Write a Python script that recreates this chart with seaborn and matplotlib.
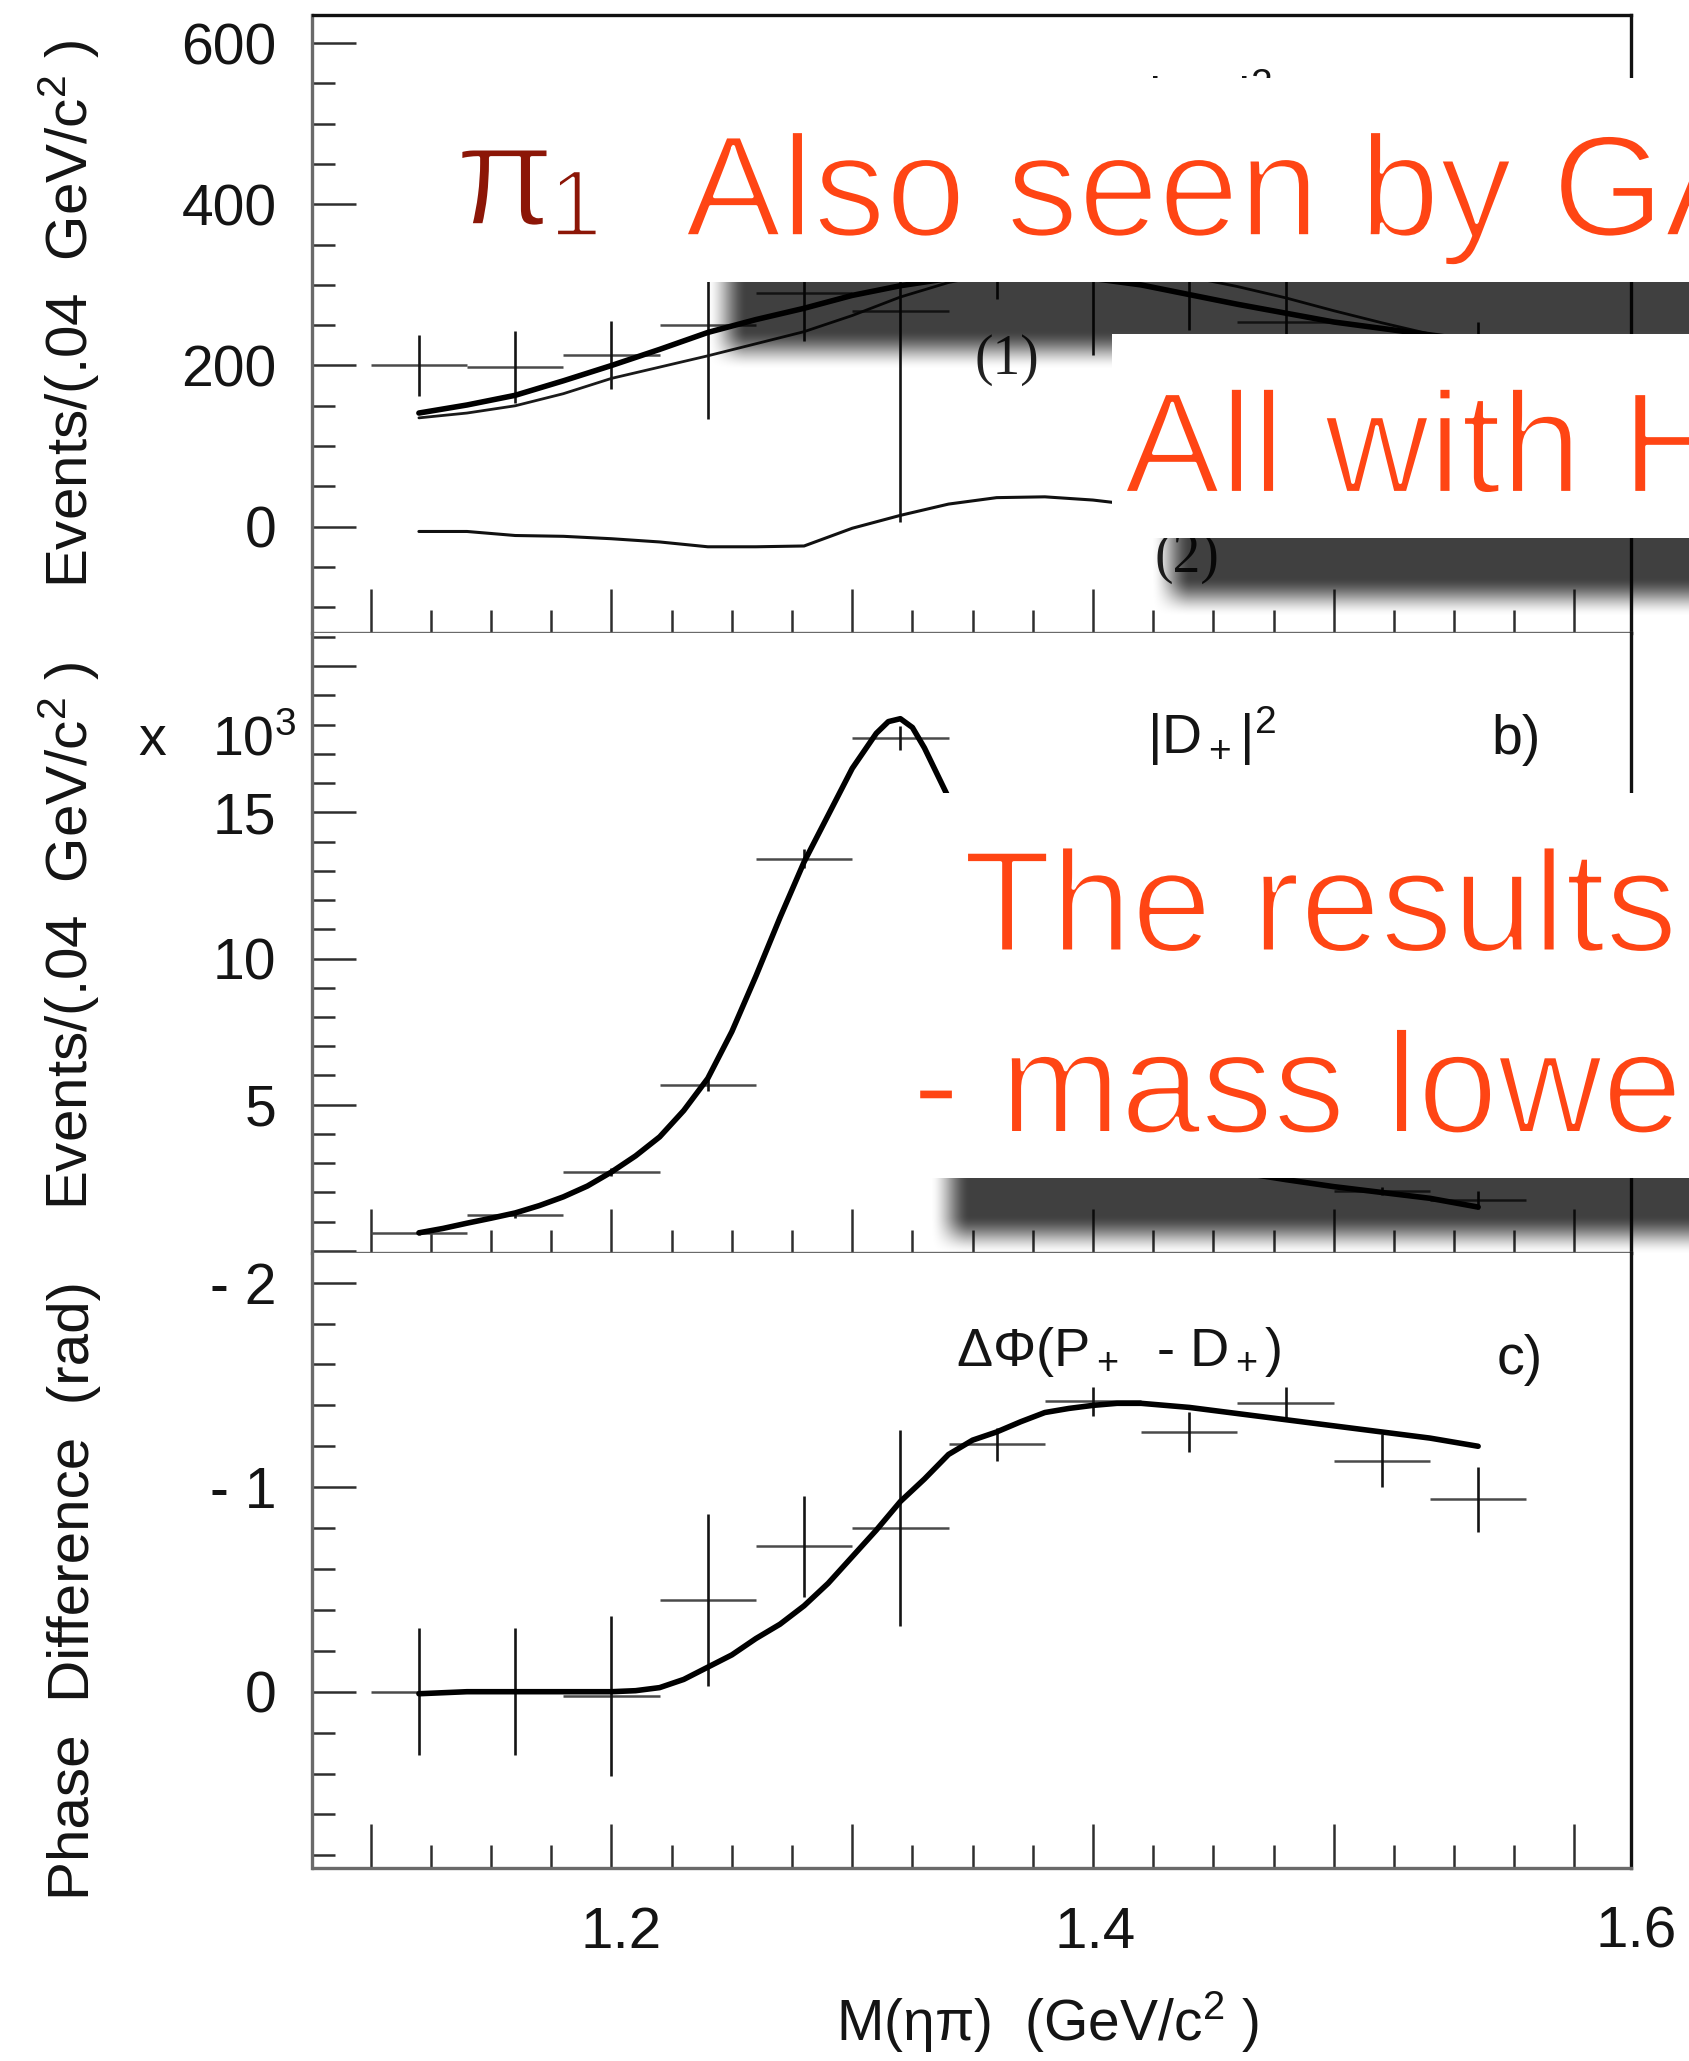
import numpy as np
import matplotlib
matplotlib.use("Agg")
import matplotlib.pyplot as plt
import matplotlib.patheffects as pe
from matplotlib.patches import Rectangle
from matplotlib.ticker import MultipleLocator, FuncFormatter
from matplotlib.transforms import ScaledTranslation
import seaborn as sns

# ------------------------------------------------------------------ data
mass_bins = [1.12, 1.16, 1.20, 1.24, 1.28, 1.32, 1.36, 1.40, 1.44, 1.48, 1.52, 1.56]
bin_half_width = 0.02

# a) |P+|^2  (events / 0.04 GeV/c^2)
p_wave_events = [200, 198, 213, 250, 290, 268, 325, 330, 318, 254, 200, 205]
p_wave_errors = [38, 45, 42, 116, 59, 262, 43, 117, 74, 60, 35, 49]

fit_mass = [1.12, 1.14, 1.16, 1.18, 1.20, 1.22, 1.24, 1.26, 1.28, 1.30, 1.32, 1.34,
            1.36, 1.38, 1.40, 1.42, 1.44, 1.46, 1.48, 1.50, 1.52, 1.54, 1.56]
p_fit_total = [141, 151, 163, 181, 200, 220, 241, 257, 271, 287, 299, 308,
               313, 313, 308, 300, 288, 276, 265, 254, 246, 238, 230]
p_fit_comp1 = [135, 141, 150, 165, 184, 198, 212, 227, 242, 262, 285, 303,
               315, 321, 322, 318, 310, 298, 284, 268, 253, 239, 228]
p_fit_comp2 = [-6, -6, -11, -12, -15, -19, -25, -25, -24, -2, 14, 28,
               36, 37, 33, 26, 18, 10, 4, -1, -5, -8, -10]

# b) |D+|^2  (x 10^3 events / 0.04 GeV/c^2)
d_wave_events = [0.62, 1.22, 2.71, 5.68, 13.41, 17.54, 11.8, 5.6, 3.3, 2.6, 2.04, 1.75]
d_wave_errors = [0.08, 0.10, 0.14, 0.20, 0.32, 0.40, 0.32, 0.22, 0.17, 0.15, 0.14, 0.30]
d_fit_mass = [1.12, 1.13, 1.14, 1.15, 1.16, 1.17, 1.18, 1.19, 1.20, 1.21, 1.22, 1.23,
              1.24, 1.25, 1.26, 1.27, 1.28, 1.29, 1.30, 1.31, 1.315, 1.32, 1.325,
              1.33, 1.34, 1.36, 1.38, 1.40, 1.42, 1.44, 1.46, 1.48, 1.50, 1.52,
              1.54, 1.56]
d_fit = [0.62, 0.77, 0.95, 1.12, 1.3, 1.55, 1.85, 2.22, 2.7, 3.25, 3.9, 4.8,
         5.9, 7.5, 9.4, 11.4, 13.3, 14.9, 16.5, 17.7, 18.1, 18.2, 17.9,
         17.2, 15.5, 11.5, 7.8, 5.3, 3.9, 3.1, 2.7, 2.44, 2.2, 2.0,
         1.8, 1.5]

# c) phase difference P+ - D+ (rad)
phase_diff = [0.0, 0.0, 0.02, -0.45, -0.71, -0.80, -1.21, -1.42, -1.27, -1.41, -1.13, -0.94]
phase_errors = [0.31, 0.31, 0.39, 0.42, 0.245, 0.48, 0.08, 0.07, 0.10, 0.08, 0.13, 0.16]
phase_fit_mass = [1.12, 1.14, 1.16, 1.18, 1.20, 1.21, 1.22, 1.23, 1.24, 1.25, 1.26,
                  1.27, 1.28, 1.29, 1.30, 1.31, 1.32, 1.33, 1.34, 1.35, 1.36, 1.37,
                  1.38, 1.39, 1.40, 1.41, 1.42, 1.44, 1.46, 1.48, 1.50, 1.52, 1.54,
                  1.56]
phase_fit = [0.01, 0.0, 0.0, 0.0, 0.0, -0.005, -0.02, -0.06, -0.12, -0.18, -0.26,
             -0.33, -0.42, -0.53, -0.66, -0.79, -0.93, -1.04, -1.16, -1.23, -1.27, -1.32,
             -1.365, -1.385, -1.40, -1.41, -1.41, -1.39, -1.36, -1.33, -1.30, -1.27, -1.24,
             -1.20]

# slide overlay texts
overlay_line1 = "Also seen by GAMS"
overlay_line2 = "All with H"
overlay_line3 = "The results"
overlay_line4 = "- mass lower"

# ------------------------------------------------------------------ style
W, H, DPI = 1690, 2061, 100
sns.set_theme(style="white")
plt.rcParams["font.family"] = ["Liberation Sans", "DejaVu Sans"]
plt.rcParams["mathtext.fontset"] = "custom"
plt.rcParams["mathtext.rm"] = "Liberation Sans"
plt.rcParams["mathtext.it"] = "Liberation Sans:italic"
plt.rcParams["mathtext.bf"] = "Liberation Sans:bold"

INK = "#141414"
TICK = "#2e2e2e"
ORANGE = "#FF4514"
DARKRED = "#8C1607"

fig = plt.figure(figsize=(W / DPI, H / DPI), dpi=DPI)
fig.patch.set_facecolor("white")


def px_rect(top, bottom, left=312.5, right=1631):
    return [left / W, 1 - bottom / H, (right - left) / W, (bottom - top) / H]


ax_a = fig.add_axes(px_rect(15, 633))
ax_b = fig.add_axes(px_rect(633, 1253))
ax_c = fig.add_axes(px_rect(1253, 1868))

for ax in (ax_a, ax_b, ax_c):
    ax.set_facecolor("white")
    ax.set_xlim(1.0758, 1.6235)
    ax.xaxis.set_major_locator(MultipleLocator(0.1))
    ax.xaxis.set_minor_locator(MultipleLocator(0.025))
    ax.tick_params(which="both", direction="in", top=False, right=False,
                   bottom=True, left=True, color=TICK, labelcolor=INK,
                   labelsize=41, pad=26)
    ax.tick_params(which="major", length=32, width=1.8)
    ax.tick_params(which="minor", length=16.5, width=1.8)
    for side in ("left", "bottom"):
        ax.spines[side].set_color("#6a6a6a")
        ax.spines[side].set_linewidth(2.4)
    ax.spines["right"].set_color("#111111")
    ax.spines["right"].set_linewidth(2.4)
    ax.spines["top"].set_visible(False)
    ax.grid(False)

ax_a.spines["top"].set_visible(True)
ax_a.spines["top"].set_color("#111111")
ax_a.spines["top"].set_linewidth(2.4)
ax_a.tick_params(labelbottom=False)
ax_b.tick_params(labelbottom=False)


def draw_points(ax, y, err):
    ax.errorbar(mass_bins, y, xerr=bin_half_width, fmt="none", ecolor="#4a4a4a",
                elinewidth=1.8, capsize=0, zorder=3)
    ax.errorbar(mass_bins, y, yerr=err, fmt="none", ecolor="#141414",
                elinewidth=1.9, capsize=0, zorder=3)


# ---------------- panel a
draw_points(ax_a, p_wave_events, p_wave_errors)
sns.lineplot(x=fit_mass, y=p_fit_comp1, ax=ax_a, color="#1a1a1a", linewidth=2.0,
             estimator=None, errorbar=None, legend=False, zorder=4)
sns.lineplot(x=fit_mass, y=p_fit_total, ax=ax_a, color="black", linewidth=4.0,
             estimator=None, errorbar=None, legend=False, zorder=5)
sns.lineplot(x=fit_mass, y=p_fit_comp2, ax=ax_a, color="#111111", linewidth=2.2,
             estimator=None, errorbar=None, legend=False, zorder=4)
ax_a.set_ylim(-132, 635)
ax_a.yaxis.set_major_locator(MultipleLocator(200))
ax_a.yaxis.set_minor_locator(MultipleLocator(50))
ax_a.yaxis.set_major_formatter(FuncFormatter(lambda v, p: f"{v:.0f}"))
ax_a.set_xlabel("")
ax_a.set_ylabel("")
ax_a.text(1.3643, 206.8, "(1)", family="Liberation Serif", fontsize=40,
          ha="center", va="center", color="#222222", zorder=6)
ax_a.text(1.439, -38.8, "(2)", family="Liberation Serif", fontsize=40,
          ha="center", va="center", color="#222222", zorder=6)
ax_a.text(0.6327, 0.835, "|P$_+$|$^2$", transform=ax_a.transAxes, fontsize=40,
          ha="left", va="baseline", color=INK)
ax_a.text(0.8942, 0.80, "a)", transform=ax_a.transAxes, fontsize=40,
          ha="left", va="baseline", color=INK)

# ---------------- panel b
draw_points(ax_b, d_wave_events, d_wave_errors)
sns.lineplot(x=d_fit_mass, y=d_fit, ax=ax_b, color="black", linewidth=4.0,
             estimator=None, errorbar=None, legend=False, zorder=5)
ax_b.set_ylim(-0.07, 21.13)
ax_b.yaxis.set_major_locator(MultipleLocator(5))
ax_b.yaxis.set_minor_locator(MultipleLocator(1))
ax_b.yaxis.set_major_formatter(
    FuncFormatter(lambda v, p: f"{v:.0f}" if 2 < v < 18 else ""))
ax_b.set_xlabel("")
ax_b.set_ylabel("")
ax_b.text(0.6327, 0.805, "|D$_+$|$^2$", transform=ax_b.transAxes, fontsize=40,
          ha="left", va="baseline", color=INK)
ax_b.text(0.8942, 0.805, "b)", transform=ax_b.transAxes, fontsize=40,
          ha="left", va="baseline", color=INK)

# ---------------- panel c
draw_points(ax_c, phase_diff, phase_errors)
sns.lineplot(x=phase_fit_mass, y=phase_fit, ax=ax_c, color="black", linewidth=4.0,
             estimator=None, errorbar=None, legend=False, zorder=5)
ax_c.set_ylim(0.862, -2.145)
ax_c.yaxis.set_major_locator(MultipleLocator(1))
ax_c.yaxis.set_minor_locator(MultipleLocator(0.2))


def phase_fmt(v, p):
    r = int(round(v))
    return "0" if r == 0 else f"- {abs(r)}"


ax_c.yaxis.set_major_formatter(FuncFormatter(phase_fmt))


def mass_fmt(v, p):
    r = round(v, 3)
    return f"{r:.1f}" if r in (1.2, 1.4, 1.6) else ""


ax_c.xaxis.set_major_formatter(FuncFormatter(mass_fmt))
ax_c.tick_params(axis="x", labelsize=42, pad=27)
ax_c.set_xlabel("")
ax_c.set_ylabel("")
ax_c.text(0.4877, 0.8156, "ΔΦ(P$_+$  - D$_+$)", transform=ax_c.transAxes,
          fontsize=39, ha="left", va="baseline", color=INK)
ax_c.text(0.8984, 0.803, "c)", transform=ax_c.transAxes, fontsize=40,
          ha="left", va="baseline", color=INK)

# axis titles
fig.text(69 / W, 1 - 314 / H, "Events/(.04  GeV/c$^2$ )", rotation=90,
         ha="center", va="center", fontsize=42, color=INK)
fig.text(69 / W, 1 - 936 / H, "Events/(.04  GeV/c$^2$ )", rotation=90,
         ha="center", va="center", fontsize=42, color=INK)
fig.text(74 / W, 1 - 1591 / H, "Phase  Difference  (rad)", rotation=90,
         ha="center", va="center", fontsize=42, color=INK)
fig.text(296 / W, 1 - 756 / H, "x   10$^3$", ha="right", va="baseline",
         fontsize=40, color=INK)
fig.text(1047 / W, 1 - 2041 / H, "M(ηπ)  (GeV/c$^2$ )", ha="center",
         va="baseline", fontsize=41, color=INK)

# shift x tick labels like in the original figure
fig.canvas.draw()
shifts = {1.2: 10, 1.4: 2, 1.6: 62}
for tick in ax_c.xaxis.get_major_ticks():
    key = round(tick.get_loc(), 3)
    if key in shifts:
        tick.label1.set_transform(tick.label1.get_transform() +
                                  ScaledTranslation(shifts[key] / DPI, 0, fig.dpi_scale_trans))

# ------------------------------------------------------------------ slide overlay
ov = fig.add_axes([0, 0, 1, 1], zorder=20)
ov.set_xlim(0, W)
ov.set_ylim(H, 0)
ov.axis("off")


def ramp(t):
    t = np.clip(t, 0, 1)
    return t * t * (3 - 2 * t)


def soft_shadow(left, top, bottom, z, right=W + 300, blur=40, alpha=0.75):
    x0, x1 = int(left - blur), W
    y0, y1 = int(top - blur), int(bottom + blur)
    xs = np.arange(x0, x1) + 0.5
    ys = np.arange(y0, y1) + 0.5
    rx = ramp((xs - left) / blur + 0.5) * ramp((right - xs) / blur + 0.5)
    ry = ramp((ys - top) / blur + 0.5) * ramp((bottom - ys) / blur + 0.5)
    rgba = np.zeros((len(ys), len(xs), 4))
    rgba[..., 3] = alpha * np.outer(ry, rx)
    ov.imshow(rgba, extent=(x0, x1, y1, y0), origin="upper", aspect="auto",
              interpolation="bilinear", zorder=z)


def white_box(left, top, bottom, z):
    ov.add_patch(Rectangle((left, top), W + 20 - left, bottom - top,
                           facecolor="white", edgecolor="none", zorder=z))


soft_shadow(727, 140, 350, 1)
white_box(672, 78, 282, 2)
soft_shadow(1171, 394, 597, 3)
white_box(1112, 334, 538, 4)
soft_shadow(950, 853, 1235, 5)
white_box(895, 793, 1178, 6)
ov.set_xlim(0, W)
ov.set_ylim(H, 0)

erode = [pe.Stroke(linewidth=2.6, foreground="white")]
BIG = 104
ov.text(685, 236, overlay_line1, color=ORANGE, fontsize=BIG, ha="left",
        va="baseline", path_effects=erode, zorder=10)
ov.text(1124, 492.7, overlay_line2, color=ORANGE, fontsize=BIG, ha="left",
        va="baseline", path_effects=erode, zorder=10)
ov.text(963, 951.3, overlay_line3, color=ORANGE, fontsize=BIG, ha="left",
        va="baseline", path_effects=erode, zorder=10)
ov.text(912, 1132.8, overlay_line4, color=ORANGE, fontsize=BIG, ha="left",
        va="baseline", path_effects=erode, zorder=10)
ov.text(455, 225, "π", color=DARKRED, fontsize=BIG, ha="left",
        va="baseline", path_effects=erode, zorder=10)
ov.text(549, 236, "1", color=DARKRED, fontsize=BIG * 0.66, ha="left",
        va="baseline", path_effects=erode, zorder=10)

fig.savefig("out.png", dpi=DPI, facecolor="white")
